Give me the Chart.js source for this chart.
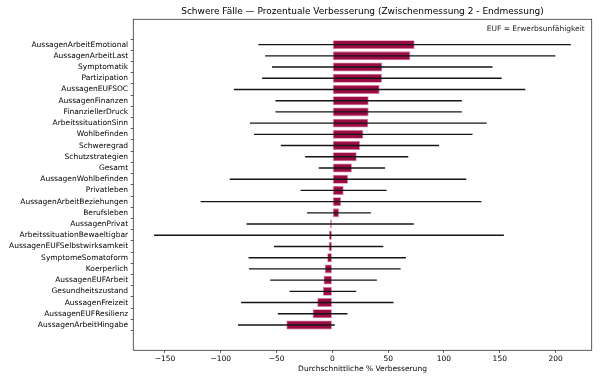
<!DOCTYPE html>
<html>
<head>
<meta charset="utf-8">
<script src="https://cdn.jsdelivr.net/npm/chart.js@4.4.1/dist/chart.umd.min.js"></script>
<style>
  html, body { margin: 0; padding: 0; background: #fff; }
  canvas { display: block; }
</style>
</head>
<body>
<canvas id="c" width="600" height="382"></canvas>
<script>
const categories = [
  "AussagenArbeitEmotional", "AussagenArbeitLast", "Symptomatik", "Partizipation",
  "AussagenEUFSOC", "AussagenFinanzen", "FinanziellerDruck", "ArbeitssituationSinn",
  "Wohlbefinden", "Schweregrad", "Schutzstrategien", "Gesamt",
  "AussagenWohlbefinden", "Privatleben", "AussagenArbeitBeziehungen", "Berufsleben",
  "AussagenPrivat", "ArbeitssituationBewaeltigbar", "AussagenEUFSelbstwirksamkeit",
  "SymptomeSomatoform", "Koerperlich", "AussagenEUFArbeit", "Gesundheitszustand",
  "AussagenFreizeit", "AussagenEUFResilienz", "AussagenArbeitHingabe"
];
const meanImprovement = [
  73.7, 69.8, 44.7, 44.4, 42.3, 32.5, 32.5, 32.2, 27.7, 24.7, 21.8, 17.5,
  14.0, 10.1, 7.7, 5.9, -2.0, -3.0, -3.3, -4.6, -6.8, -7.9, -8.5, -13.5, -17.7, -41.2
];
const stdDev = [
  140, 130, 98.8, 107.3, 130.6, 83.5, 83.5, 106, 97.9, 70.9, 46.2, 29.7,
  106, 38.5, 125.8, 28.6, 75, 156.7, 49, 70.5, 68, 47.8, 29.9, 68.3, 31.2, 43.4
];
const xTickValues = [-150, -100, -50, 0, 50, 100, 150, 200];
const titleText = "Schwere Fälle — Prozentuale Verbesserung (Zwischenmessung 2 - Endmessung)";
const xLabel = "Durchschnittliche % Verbesserung";
const noteText = "EUF = Erwerbsunfähigkeit";

// axis limits like matplotlib autoscale (5% margins)
const lows = meanImprovement.map((m, i) => m - stdDev[i]);
const highs = meanImprovement.map((m, i) => m + stdDev[i]);
const dMin = Math.min(...lows, 0), dMax = Math.max(...highs, 0);
const xMin = dMin - 0.05 * (dMax - dMin), xMax = dMax + 0.05 * (dMax - dMin);
const yLo = -0.4, yHi = categories.length - 1 + 0.4;
const yMin = yLo - 0.05 * (yHi - yLo), yMax = yHi + 0.05 * (yHi - yLo);

const FONT = "'DejaVu Sans', sans-serif";

const decor = {
  id: 'decor',
  afterDatasetsDraw(chart) {
    const ctx = chart.ctx, xs = chart.scales.x, ys = chart.scales.y;
    ctx.save();
    ctx.strokeStyle = '#151515';
    ctx.lineWidth = 1.4;
    meanImprovement.forEach((m, i) => {
      const y = ys.getPixelForValue(i);
      ctx.beginPath();
      ctx.moveTo(xs.getPixelForValue(m - stdDev[i]), y);
      ctx.lineTo(xs.getPixelForValue(m + stdDev[i]), y);
      ctx.stroke();
    });
    ctx.restore();
  },
  afterDraw(chart) {
    const ctx = chart.ctx, a = chart.chartArea;
    ctx.save();
    ctx.strokeStyle = '#333';
    ctx.lineWidth = 0.8;
    ctx.strokeRect(a.left, a.top, a.right - a.left, a.bottom - a.top);
    ctx.fillStyle = '#000';
    ctx.textAlign = 'center';
    ctx.textBaseline = 'middle';
    ctx.font = "9px " + FONT;
    ctx.fillText(titleText, (a.left + a.right) / 2, 12);
    ctx.font = "7.5px " + FONT;
    ctx.fillText(xLabel, (a.left + a.right) / 2, 369.5);
    ctx.textAlign = 'right';
    ctx.fillStyle = '#222';
    ctx.fillText(noteText, a.right - 7, 29.5);
    ctx.restore();
  }
};

new Chart(document.getElementById('c'), {
  type: 'bar',
  data: {
    datasets: [{
      data: meanImprovement.map((v, i) => ({ x: v, y: i })),
      backgroundColor: '#9c0c44',
      borderColor: 'rgba(215,110,150,0.9)',
      borderWidth: 0.8,
      borderSkipped: false,
      categoryPercentage: 1.0,
      barPercentage: 0.8
    }]
  },
  options: {
    indexAxis: 'y',
    responsive: false,
    animation: false,
    devicePixelRatio: 1,
    layout: { padding: { top: 19.3, right: 8.3, left: 0, bottom: 0 } },
    plugins: { legend: { display: false }, tooltip: { enabled: false }, title: { display: false } },
    scales: {
      x: {
        type: 'linear',
        min: xMin, max: xMax,
        afterBuildTicks: (s) => { s.ticks = xTickValues.map(v => ({ value: v })); },
        afterFit: (s) => { s.height = 31.7; },
        ticks: {
          font: { family: FONT, size: 7.5 },
          color: '#000',
          padding: 1.5,
          maxRotation: 0,
          autoSkip: false,
          callback: (v) => v < 0 ? '\u2212' + Math.abs(v) : String(v)
        },
        grid: { drawOnChartArea: false, drawTicks: true, tickLength: 2.6, tickColor: '#333', tickWidth: 0.8 },
        border: { display: false }
      },
      y: {
        type: 'linear',
        reverse: true,
        min: yMin, max: yMax,
        afterBuildTicks: (s) => { s.ticks = categories.map((_, i) => ({ value: i })); },
        afterFit: (s) => { s.width = 133.3; },
        ticks: {
          font: { family: FONT, size: 7.5 },
          color: '#000',
          padding: 2.6,
          autoSkip: false,
          callback: (v) => categories[v] !== undefined ? categories[v] : ''
        },
        grid: { drawOnChartArea: false, drawTicks: true, tickLength: 2.6, tickColor: '#333', tickWidth: 0.8 },
        border: { display: false }
      }
    }
  },
  plugins: [decor]
});
</script>
</body>
</html>
